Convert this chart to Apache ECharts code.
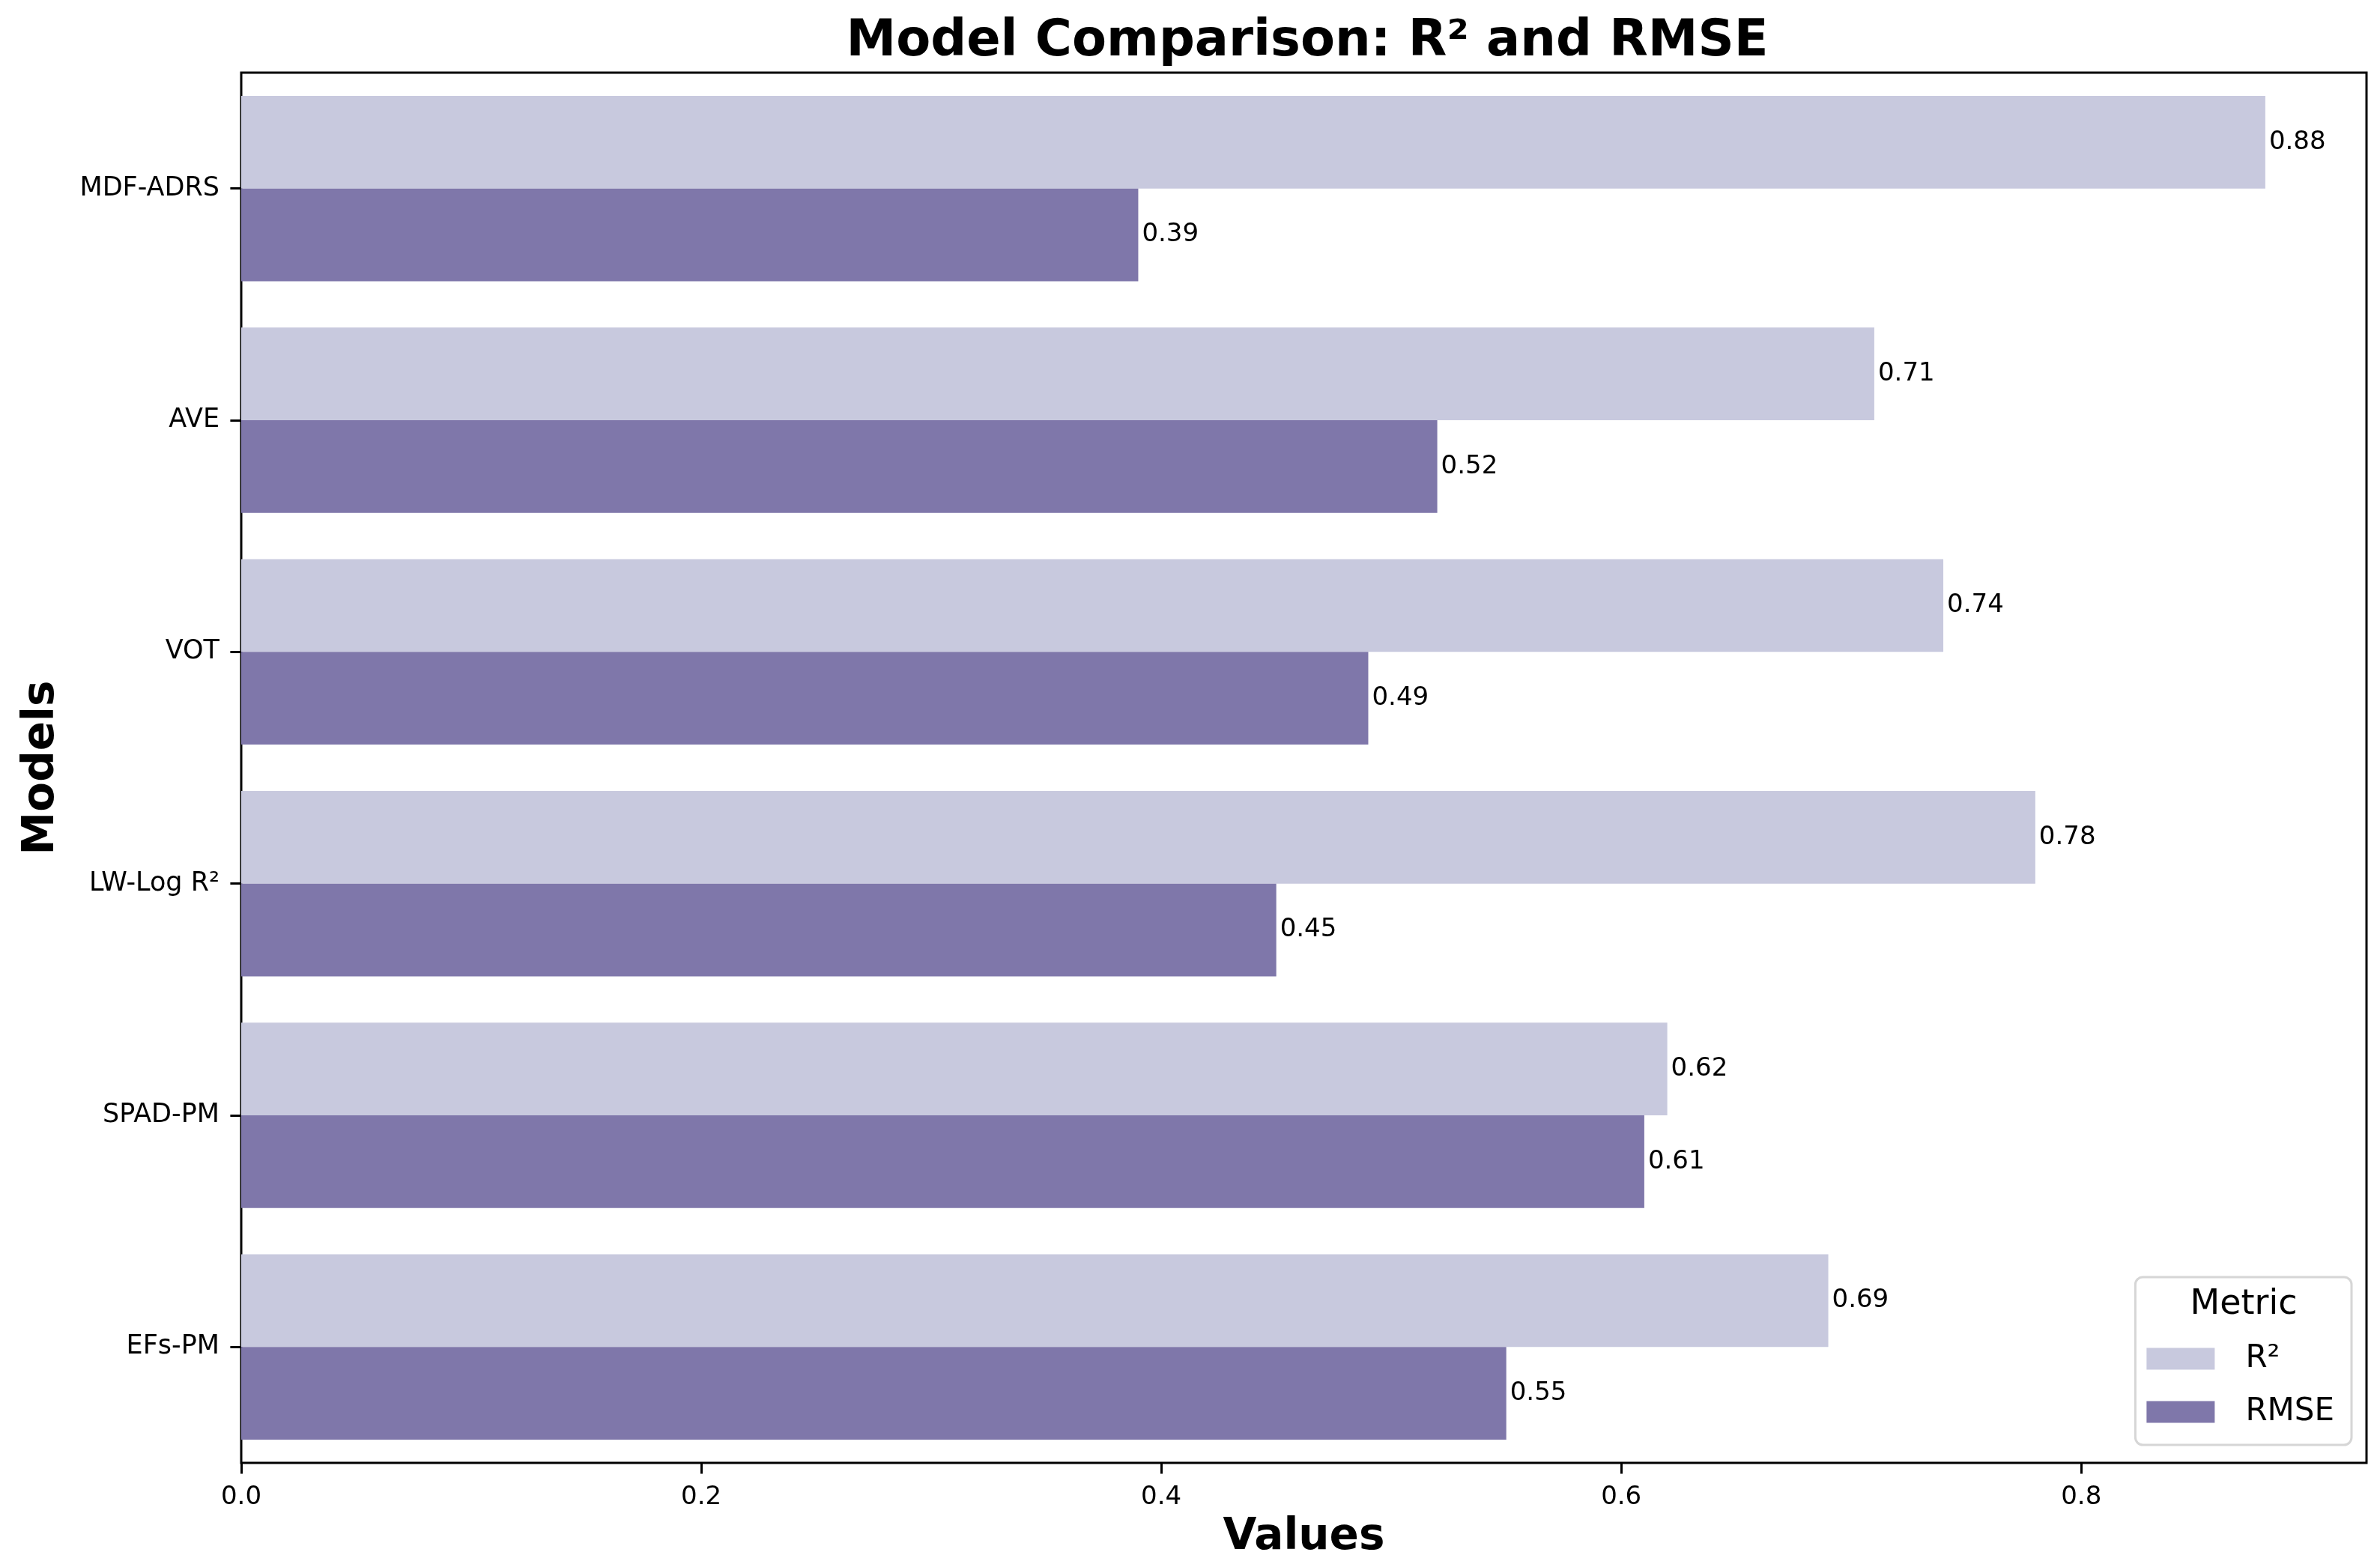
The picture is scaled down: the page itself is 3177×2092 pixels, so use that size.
<!DOCTYPE html>
<html>
<head>
<meta charset="utf-8">
<script src="https://cdn.jsdelivr.net/npm/echarts@6/dist/echarts.min.js"></script>
<style>html,body{margin:0;padding:0;background:#fff}#c{width:3177px;height:2092px}</style>
</head>
<body>
<div id="c"></div>
<script>
const models = ['MDF-ADRS', 'AVE', 'VOT', 'LW-Log R²', 'SPAD-PM', 'EFs-PM'];
const r2Values = [0.88, 0.71, 0.74, 0.78, 0.62, 0.69];
const rmseValues = [0.39, 0.52, 0.49, 0.45, 0.61, 0.55];
const xTicks = [0, 0.2, 0.4, 0.6, 0.8];
const seriesNames = ['R²', 'RMSE'];

const FONT = 'DejaVu Sans';
const chart = echarts.init(document.getElementById('c'), null, {renderer: 'canvas'});
const labelCfg = {
  show: true, position: 'right', distance: 5, color: '#000',
  fontFamily: FONT, fontSize: 34,
  formatter: p => p.value.toFixed(2)
};
chart.setOption({
  animation: false,
  backgroundColor: '#fff',
  title: {
    text: 'Model Comparison: R² and RMSE',
    left: 1740, textAlign: 'center', top: 18,
    textStyle: {fontFamily: FONT, fontWeight: 'bold', fontSize: 67, color: '#000'}
  },
  grid: {
    left: 322, right: 18, top: 97, bottom: 139,
    show: true, borderColor: '#000', borderWidth: 3, backgroundColor: 'transparent'
  },
  legend: {
    data: seriesNames,
    orient: 'vertical', right: 38, bottom: 163,
    icon: 'rect', itemWidth: 91, itemHeight: 29, itemGap: 29,
    padding: [88, 23, 23, 15],
    borderColor: '#d6d6d6', borderWidth: 3, borderRadius: 10,
    backgroundColor: '#fff',
    textStyle: {fontFamily: FONT, fontSize: 42, color: '#000', lineHeight: 42, padding: [0, 0, 0, 36]}
  },
  graphic: [{
    type: 'text', x: 2995, y: 1742, z: 100,
    style: {text: 'Metric', fontFamily: FONT, fontSize: 46, fill: '#000', align: 'center', verticalAlign: 'middle'}
  }],
  xAxis: {
    type: 'value', min: 0, max: 0.924,
    name: 'Values', nameLocation: 'middle', nameGap: 71,
    nameTextStyle: {fontFamily: FONT, fontWeight: 'bold', fontSize: 58, color: '#000'},
    axisLine: {show: false},
    splitLine: {show: false},
    axisTick: {show: true, length: 14.6, lineStyle: {color: '#000', width: 3}, customValues: xTicks},
    axisLabel: {fontFamily: FONT, fontSize: 34, color: '#000', margin: 29, customValues: xTicks,
      formatter: v => v.toFixed(1)}
  },
  yAxis: {
    type: 'category', data: models, inverse: true,
    name: 'Models', nameLocation: 'middle', nameGap: 237,
    nameTextStyle: {fontFamily: FONT, fontWeight: 'bold', fontSize: 58, color: '#000'},
    axisLine: {show: false},
    axisTick: {show: true, alignWithLabel: true, length: 14.6, lineStyle: {color: '#000', width: 3}},
    axisLabel: {fontFamily: FONT, fontSize: 35, color: '#000', margin: 29}
  },
  series: [
    {name: seriesNames[0], type: 'bar', data: r2Values, barGap: '0%', barCategoryGap: '20%',
      itemStyle: {color: '#c8c9de'}, label: labelCfg},
    {name: seriesNames[1], type: 'bar', data: rmseValues, barGap: '0%', barCategoryGap: '20%',
      itemStyle: {color: '#7f77aa'}, label: labelCfg}
  ]
});
</script>
</body>
</html>
